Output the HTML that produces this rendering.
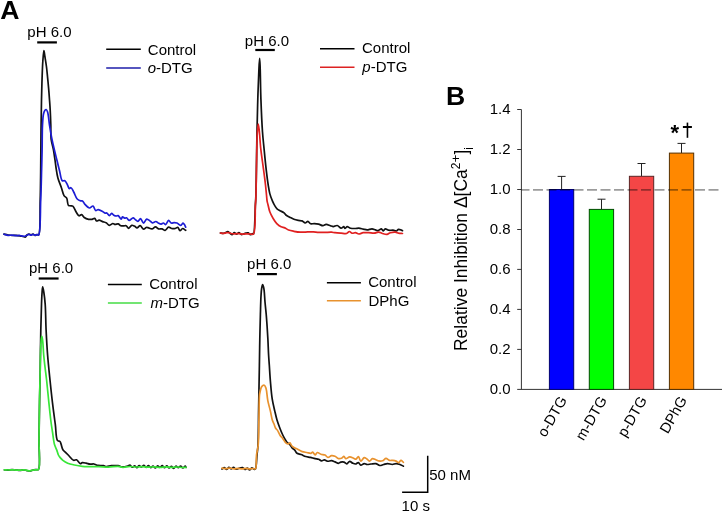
<!DOCTYPE html>
<html><head><meta charset="utf-8"><style>
html,body{margin:0;padding:0;background:#fff;}
svg{display:block;}
text{font-family:"Liberation Sans",sans-serif;font-size:15px;fill:#000;}
.b{font-weight:bold;font-size:26.6px;}
.i{font-style:italic;}
.tr{fill:none;stroke-width:1.7;stroke-linejoin:round;stroke-linecap:round;}
</style></head><body>
<svg width="723" height="513" viewBox="0 0 723 513">
<rect width="723" height="513" fill="#fff"/>
<!-- panel labels -->
<text class="b" x="0.2" y="19.2">A</text>
<text class="b" x="446.1" y="105.4">B</text>

<!-- pH labels + bars -->
<text x="27.3" y="37">pH 6.0</text>
<line x1="37.2" y1="42.4" x2="56.9" y2="42.4" stroke="#000" stroke-width="2.2"/>
<text x="244.8" y="45.5">pH 6.0</text>
<line x1="255.3" y1="50" x2="274.8" y2="50" stroke="#000" stroke-width="2.2"/>
<text x="29" y="272.8">pH 6.0</text>
<line x1="38.7" y1="278.5" x2="58.6" y2="278.5" stroke="#000" stroke-width="2.2"/>
<text x="247.1" y="268.7">pH 6.0</text>
<line x1="257" y1="274.1" x2="276.9" y2="274.1" stroke="#000" stroke-width="2.2"/>

<!-- legends -->
<line x1="106.2" y1="49.2" x2="140.8" y2="49.2" stroke="#000" stroke-width="1.5"/>
<line x1="106.2" y1="67.9" x2="140.8" y2="67.9" stroke="#1e1eaa" stroke-width="1.5"/>
<text x="147.8" y="54.5">Control</text>
<text x="147.7" y="73"><tspan class="i">o</tspan>-DTG</text>

<line x1="320" y1="48.8" x2="354.5" y2="48.8" stroke="#000" stroke-width="1.5"/>
<line x1="320" y1="67.2" x2="354.5" y2="67.2" stroke="#dd2222" stroke-width="1.5"/>
<text x="362" y="53.3">Control</text>
<text x="362.3" y="72.1"><tspan class="i">p</tspan>-DTG</text>

<line x1="107.9" y1="284.4" x2="141.8" y2="284.4" stroke="#000" stroke-width="1.5"/>
<line x1="107.9" y1="302.9" x2="141.8" y2="302.9" stroke="#44dd44" stroke-width="1.5"/>
<text x="149.2" y="288.8">Control</text>
<text x="150.5" y="307.5"><tspan class="i">m</tspan>-DTG</text>

<line x1="326.9" y1="282.7" x2="360.9" y2="282.7" stroke="#000" stroke-width="1.5"/>
<line x1="326.9" y1="300.7" x2="360.9" y2="300.7" stroke="#e8922e" stroke-width="1.5"/>
<text x="368.2" y="286.9">Control</text>
<text x="368.5" y="305.7">DPhG</text>

<!-- scale bar -->
<polyline points="427.7,455.8 427.7,492.3 402.1,492.3" fill="none" stroke="#000" stroke-width="1.5"/>
<text x="429.2" y="480.1">50 nM</text>
<text x="401.6" y="511.2">10 s</text>

<!-- TRACES -->
<g id="traces">
<path class="tr" stroke="#111" stroke-width="1.7" d="M4.00,234.20 C5.33,234.47 6.66,234.78 8.00,235.00 C9.33,235.22 10.66,235.45 12.00,235.50 C13.33,235.55 14.67,235.25 16.00,235.30 C17.34,235.35 18.77,235.58 20.00,235.80 C21.08,235.99 22.04,236.29 23.00,236.50 C23.87,236.69 24.83,237.26 25.50,237.00 C26.16,236.75 26.39,235.51 27.00,235.00 C27.57,234.52 28.33,234.00 29.00,234.00 C29.67,234.00 30.33,235.00 31.00,235.00 C31.67,235.00 32.35,233.94 33.00,234.00 C33.69,234.06 34.31,235.44 35.00,235.50 C35.65,235.56 36.36,234.55 37.00,234.50 C37.55,234.46 38.14,235.32 38.60,235.00 C40.70,233.53 39.80,213.87 40.20,200.00 C40.79,179.71 40.84,143.37 41.10,125.00 C41.25,114.33 41.36,106.53 41.50,99.70 C41.60,95.06 41.70,91.79 41.80,88.00 C41.90,84.43 41.96,81.43 42.10,77.60 C42.27,72.88 42.46,66.60 42.80,61.80 C43.09,57.77 43.48,50.72 43.90,50.70 C44.21,50.69 44.54,54.28 44.90,56.50 C45.38,59.48 46.05,63.49 46.50,67.00 C46.95,70.52 47.25,74.07 47.60,77.60 C47.95,81.11 48.29,84.51 48.60,88.10 C48.93,91.87 49.23,95.95 49.50,99.70 C49.76,103.23 50.00,106.24 50.20,110.00 C50.44,114.53 50.65,120.09 50.80,125.00 C50.95,129.75 50.58,134.64 51.10,139.00 C51.56,142.91 52.84,146.41 53.50,150.00 C54.13,153.40 54.56,156.90 55.00,160.00 C55.38,162.68 55.58,164.80 56.00,167.50 C56.50,170.71 56.99,174.61 57.90,178.00 C58.80,181.34 60.34,184.63 61.40,187.70 C62.35,190.46 62.85,193.77 64.00,195.60 C64.77,196.83 66.01,196.99 66.70,198.20 C67.67,199.89 67.29,204.24 68.40,205.30 C69.07,205.94 70.21,205.66 71.00,205.80 C71.65,205.92 72.20,205.68 72.80,206.10 C73.98,206.93 75.17,210.56 76.30,212.30 C77.19,213.66 77.91,215.54 78.90,215.80 C79.72,216.01 80.77,214.42 81.60,214.60 C82.56,214.80 83.11,216.73 84.20,217.50 C85.40,218.35 87.19,219.02 88.60,219.30 C89.81,219.54 91.03,219.48 92.10,219.30 C93.05,219.14 93.98,218.17 94.70,218.40 C95.47,218.65 95.73,220.73 96.50,221.00 C97.22,221.25 98.18,220.16 99.10,220.20 C100.19,220.24 101.43,221.16 102.60,221.60 C103.76,222.03 104.99,222.21 106.10,222.80 C107.27,223.42 108.25,225.20 109.40,225.30 C110.52,225.40 111.86,223.55 112.90,223.50 C113.71,223.46 114.29,224.31 115.10,224.40 C116.03,224.51 117.25,223.69 118.20,223.90 C119.15,224.12 119.84,225.37 120.80,225.70 C121.75,226.03 122.96,225.91 123.90,225.90 C124.70,225.89 125.39,225.44 126.10,225.70 C127.01,226.03 127.79,228.29 128.70,228.30 C129.68,228.31 130.73,225.56 131.80,225.30 C132.65,225.10 133.56,225.69 134.40,226.10 C135.30,226.54 136.10,227.91 137.00,227.90 C137.99,227.89 139.07,225.61 140.10,225.70 C141.27,225.80 142.47,229.08 143.60,229.20 C144.49,229.29 145.38,227.72 146.20,227.50 C146.83,227.33 147.29,227.47 148.00,227.60 C149.08,227.80 150.74,229.04 152.00,228.90 C153.24,228.76 154.39,226.76 155.50,226.80 C156.55,226.84 157.40,228.55 158.50,228.90 C159.57,229.24 160.89,228.66 162.00,228.90 C163.09,229.13 164.08,230.45 165.10,230.30 C166.29,230.12 167.41,227.40 168.60,227.20 C169.61,227.03 170.61,228.28 171.70,228.50 C172.81,228.72 174.14,228.72 175.20,228.50 C176.15,228.31 177.05,227.17 177.80,227.40 C178.69,227.67 179.16,230.58 180.00,230.70 C180.78,230.81 181.66,228.58 182.60,228.50 C183.56,228.42 184.67,229.70 185.70,230.30"/>
<path class="tr" stroke="#1c1cd4" stroke-width="1.7" d="M4.00,234.20 C5.33,234.57 6.65,235.14 8.00,235.30 C9.32,235.46 10.67,235.15 12.00,235.20 C13.33,235.25 14.67,235.55 16.00,235.60 C17.33,235.65 18.77,235.37 20.00,235.50 C21.08,235.61 22.04,236.13 23.00,236.20 C23.87,236.26 24.79,236.21 25.50,236.00 C26.08,235.83 26.46,235.45 27.00,235.20 C27.61,234.92 28.33,234.40 29.00,234.40 C29.67,234.40 30.34,235.21 31.00,235.20 C31.67,235.19 32.33,234.30 33.00,234.30 C33.67,234.30 34.32,235.16 35.00,235.20 C35.66,235.24 36.37,234.61 37.00,234.60 C37.56,234.59 38.13,235.34 38.60,235.00 C40.75,233.43 40.20,211.22 40.70,200.00 C41.17,189.62 41.35,178.99 41.60,170.00 C41.80,162.66 41.96,157.04 42.10,150.00 C42.26,142.13 42.15,131.64 42.50,125.00 C42.74,120.59 42.91,116.62 43.50,114.00 C43.85,112.48 44.22,111.26 44.80,110.50 C45.20,109.98 45.78,109.41 46.20,109.50 C46.74,109.62 47.19,110.79 47.60,112.00 C48.48,114.60 48.80,120.59 49.50,125.00 C50.23,129.58 51.03,134.63 51.90,139.00 C52.68,142.90 53.54,146.38 54.40,150.00 C55.24,153.54 56.13,157.00 57.00,160.50 C57.87,164.00 58.70,167.58 59.60,171.00 C60.47,174.30 60.87,179.61 62.30,180.70 C63.03,181.25 64.14,180.27 64.90,180.70 C65.96,181.30 66.74,183.62 67.50,185.00 C68.18,186.24 68.57,188.37 69.30,188.60 C69.80,188.76 70.44,187.55 71.00,187.70 C71.91,187.94 72.78,190.37 73.70,192.00 C74.84,194.03 75.76,197.51 77.20,199.00 C78.23,200.06 79.70,200.65 80.70,200.90 C81.37,201.07 81.92,200.60 82.50,200.90 C83.39,201.36 83.95,203.29 85.00,204.40 C86.21,205.68 88.06,207.89 89.50,208.00 C90.71,208.09 92.02,205.74 93.00,206.00 C94.11,206.30 94.55,210.11 95.60,210.50 C96.37,210.79 97.23,209.57 98.20,209.60 C99.48,209.64 101.34,210.73 102.60,211.40 C103.64,211.95 104.50,213.01 105.30,213.20 C105.85,213.33 106.28,212.82 106.80,213.00 C107.61,213.28 108.57,215.60 109.40,215.60 C110.16,215.60 110.85,213.44 111.60,213.40 C112.32,213.36 112.99,214.77 113.80,215.20 C114.59,215.63 115.61,215.97 116.40,216.00 C117.05,216.03 117.59,215.40 118.20,215.60 C119.17,215.92 120.44,219.17 121.20,219.10 C121.77,219.05 121.92,217.05 122.50,216.90 C123.08,216.75 123.98,218.09 124.70,218.20 C125.31,218.30 125.89,217.62 126.50,217.80 C127.36,218.05 128.09,220.29 129.10,220.40 C130.25,220.52 131.98,217.74 133.10,217.80 C133.96,217.85 134.52,219.03 135.30,219.60 C136.12,220.20 137.07,221.39 137.90,221.30 C138.81,221.21 139.64,218.63 140.50,218.70 C141.54,218.79 142.55,223.08 143.60,223.10 C144.62,223.12 145.52,219.33 146.70,219.10 C147.75,218.89 149.19,220.42 150.20,221.10 C151.04,221.66 151.54,222.67 152.40,222.80 C153.40,222.95 154.85,221.38 155.90,221.50 C156.86,221.61 157.60,222.76 158.50,223.20 C159.37,223.62 160.36,224.16 161.20,224.10 C161.98,224.04 162.69,222.93 163.40,223.00 C164.13,223.07 164.79,224.70 165.50,224.60 C166.50,224.46 167.57,220.48 168.60,220.40 C169.47,220.34 170.20,222.66 171.20,223.00 C172.12,223.31 173.30,222.59 174.30,222.60 C175.23,222.61 176.08,222.64 177.00,223.00 C178.14,223.45 179.44,225.45 180.50,225.40 C181.45,225.35 182.40,223.16 183.10,223.20 C183.63,223.23 184.00,224.03 184.40,224.60 C184.89,225.31 185.27,226.33 185.70,227.20"/>
<path class="tr" stroke="#111" stroke-width="1.4" d="M220.40,233.00 C221.27,233.10 222.15,233.37 223.00,233.30 C223.85,233.23 224.70,232.89 225.50,232.60 C226.27,232.32 226.98,231.53 227.70,231.60 C228.48,231.67 229.26,232.67 230.00,233.20 C230.69,233.70 231.32,234.72 232.00,234.70 C232.75,234.67 233.51,232.77 234.30,232.70 C235.04,232.64 235.84,234.11 236.60,234.10 C237.37,234.09 238.15,232.56 238.90,232.60 C239.68,232.64 240.38,234.30 241.20,234.50 C241.93,234.68 242.74,234.21 243.50,234.00 C244.27,233.78 245.02,233.38 245.80,233.20 C246.56,233.02 247.37,232.70 248.10,232.90 C248.92,233.12 249.61,234.63 250.40,234.70 C251.15,234.77 252.14,233.48 252.70,233.50 C253.04,233.51 253.26,234.12 253.50,234.00 C254.86,233.30 254.98,211.84 255.40,204.70 C255.64,200.60 255.74,199.65 255.90,195.00 C256.31,183.17 256.63,149.65 257.00,132.00 C257.27,119.21 257.48,109.36 257.80,98.90 C258.09,89.47 258.44,79.47 258.80,72.00 C259.05,66.67 259.36,58.30 259.60,58.30 C259.78,58.30 259.95,62.54 260.10,66.00 C260.42,73.15 260.50,87.92 260.90,98.90 C261.30,109.92 261.86,122.94 262.50,132.00 C262.95,138.33 263.44,142.35 264.00,148.10 C264.65,154.75 265.44,163.03 266.20,169.60 C266.85,175.17 267.51,180.62 268.20,185.00 C268.72,188.29 269.06,190.86 269.80,193.60 C270.51,196.22 271.52,198.84 272.50,201.10 C273.34,203.05 274.29,204.96 275.20,206.40 C275.89,207.49 276.48,208.38 277.30,209.10 C278.09,209.79 279.02,210.15 280.00,210.70 C281.15,211.34 282.77,211.91 283.80,212.70 C284.67,213.38 285.03,214.30 285.90,215.00 C286.93,215.83 288.39,216.49 289.70,217.20 C291.05,217.93 292.46,218.76 293.90,219.30 C295.30,219.82 296.80,220.13 298.20,220.40 C299.50,220.65 300.83,220.47 302.00,220.90 C303.17,221.33 304.17,222.98 305.20,223.00 C306.13,223.02 307.03,221.32 307.90,221.40 C308.83,221.49 309.54,223.43 310.60,223.80 C311.67,224.17 313.02,223.56 314.30,223.60 C315.68,223.64 317.19,223.76 318.60,224.10 C320.05,224.45 321.58,225.72 322.90,225.70 C324.05,225.68 324.94,224.45 326.10,224.40 C327.42,224.34 329.11,225.30 330.40,225.70 C331.46,226.03 332.26,226.59 333.30,226.60 C334.50,226.62 335.95,225.29 337.20,225.50 C338.56,225.73 339.91,228.16 341.10,228.20 C342.07,228.23 343.15,226.43 343.80,226.60 C344.34,226.74 344.41,228.42 344.90,228.50 C345.47,228.60 346.24,226.72 347.10,226.60 C348.07,226.47 349.23,227.87 350.50,228.20 C351.95,228.57 353.92,228.52 355.40,228.50 C356.64,228.48 357.60,228.13 358.80,228.20 C360.18,228.28 361.78,228.81 363.20,229.10 C364.54,229.37 365.73,229.91 367.10,229.90 C368.64,229.89 370.52,228.73 372.00,228.80 C373.25,228.86 374.33,229.57 375.40,229.90 C376.35,230.19 377.18,230.81 378.10,230.70 C379.17,230.57 380.54,228.63 381.40,228.80 C382.14,228.95 382.47,230.96 383.10,231.00 C383.76,231.04 384.43,228.97 385.30,228.80 C386.24,228.62 387.39,229.95 388.60,230.20 C389.96,230.48 391.73,230.04 393.10,230.20 C394.29,230.34 395.45,231.20 396.40,231.00 C397.26,230.82 397.72,229.44 398.60,229.30 C399.68,229.13 401.20,230.23 402.50,230.70"/>
<path class="tr" stroke="#e02020" stroke-width="1.4" d="M220.40,233.00 C221.27,233.13 222.10,233.41 223.00,233.40 C223.96,233.39 225.04,233.04 226.00,232.90 C226.87,232.78 227.68,232.51 228.50,232.60 C229.34,232.70 230.05,233.30 231.00,233.50 C232.16,233.75 233.67,233.78 235.00,233.80 C236.33,233.82 237.67,233.55 239.00,233.60 C240.34,233.65 241.67,234.07 243.00,234.10 C244.33,234.13 245.67,233.80 247.00,233.80 C248.33,233.80 249.82,234.08 251.00,234.10 C251.93,234.12 252.81,234.67 253.50,234.00 C255.85,231.70 254.98,210.28 255.40,204.70 C255.57,202.46 255.68,202.34 255.80,200.00 C256.16,193.20 256.34,171.77 256.60,160.00 C256.80,150.69 256.82,141.62 257.20,135.00 C257.45,130.62 257.80,124.12 258.20,124.10 C258.50,124.09 258.88,127.49 259.20,130.00 C259.75,134.38 260.10,142.47 260.70,148.10 C261.22,153.05 261.92,157.64 262.50,162.00 C263.02,165.88 263.51,169.25 264.00,173.00 C264.51,176.91 265.07,181.18 265.50,185.00 C265.89,188.48 266.21,192.08 266.50,195.00 C266.73,197.28 266.80,199.34 267.10,201.10 C267.34,202.47 267.65,203.30 268.00,204.70 C268.50,206.67 268.96,209.54 269.80,211.80 C270.63,214.04 271.80,216.20 273.00,218.20 C274.15,220.12 275.36,222.12 276.80,223.60 C278.09,224.93 279.66,226.08 281.10,226.80 C282.33,227.41 283.59,227.39 284.80,227.90 C286.09,228.44 287.19,229.45 288.60,230.00 C290.18,230.62 292.03,230.94 293.90,231.30 C295.95,231.69 298.15,232.09 300.40,232.20 C302.81,232.32 305.62,231.95 307.90,231.90 C309.82,231.86 311.43,231.82 313.20,231.90 C314.99,231.98 316.72,232.31 318.60,232.40 C320.64,232.49 322.86,232.43 325.00,232.40 C327.16,232.37 329.67,232.10 331.50,232.20 C332.85,232.28 333.67,232.55 335.00,232.70 C336.75,232.90 339.12,233.06 341.10,233.20 C342.98,233.33 345.13,233.93 346.60,233.50 C347.76,233.16 348.47,231.53 349.40,231.50 C350.30,231.47 351.11,232.99 352.10,233.20 C353.11,233.41 354.31,232.58 355.40,232.70 C356.54,232.82 357.59,233.95 358.80,234.00 C360.16,234.05 361.63,232.93 363.20,232.70 C364.91,232.45 366.87,232.62 368.70,232.70 C370.54,232.78 372.47,233.33 374.20,233.20 C375.79,233.08 377.28,232.02 378.70,232.10 C380.03,232.18 381.16,233.14 382.50,233.50 C383.92,233.88 385.64,234.49 387.00,234.30 C388.22,234.13 389.05,233.07 390.30,232.70 C391.76,232.27 393.82,231.95 395.30,232.10 C396.53,232.22 397.44,232.97 398.60,233.20 C399.83,233.45 401.20,233.40 402.50,233.50"/>
<path class="tr" stroke="#111" stroke-width="1.6" d="M4.40,469.90 C5.60,469.97 6.77,470.13 8.00,470.10 C9.30,470.07 10.67,469.72 12.00,469.70 C13.33,469.68 14.67,469.90 16.00,470.00 C17.33,470.10 18.67,470.33 20.00,470.30 C21.33,470.27 22.77,469.72 24.00,469.80 C25.08,469.87 25.99,470.40 27.00,470.60 C27.99,470.80 29.01,471.09 30.00,471.00 C31.01,470.90 31.99,470.23 33.00,470.00 C33.99,469.77 35.04,469.70 36.00,469.60 C36.87,469.51 37.84,470.10 38.50,469.40 C40.75,467.01 38.83,450.55 39.00,440.00 C39.20,427.69 39.38,412.38 39.60,400.00 C39.79,389.28 40.01,380.72 40.20,370.00 C40.42,357.62 40.55,341.85 40.80,330.00 C41.00,320.52 41.23,311.40 41.50,304.40 C41.68,299.52 41.83,295.25 42.10,292.00 C42.27,289.89 42.42,286.81 42.70,286.80 C42.98,286.79 43.46,289.89 43.80,292.00 C44.32,295.24 44.84,299.52 45.20,304.40 C45.72,311.40 45.70,321.52 46.10,330.00 C46.50,338.39 46.95,346.67 47.60,355.00 C48.25,363.34 49.16,371.85 50.00,380.00 C50.80,387.80 51.60,395.39 52.50,402.90 C53.37,410.18 54.41,417.75 55.30,424.40 C56.07,430.16 55.83,438.37 57.50,440.50 C58.18,441.37 59.42,440.92 60.00,441.50 C60.57,442.07 60.64,442.92 61.00,443.90 C61.56,445.41 62.01,448.26 62.90,449.70 C63.56,450.77 64.43,451.23 65.30,452.10 C66.33,453.13 67.46,454.27 68.70,455.50 C70.18,456.97 72.06,459.82 73.60,460.30 C74.61,460.61 75.55,459.49 76.50,459.80 C77.79,460.22 79.17,463.51 80.30,463.70 C81.02,463.82 81.50,462.83 82.30,462.70 C83.34,462.52 84.83,462.96 86.10,463.20 C87.40,463.45 88.69,464.07 90.00,464.20 C91.29,464.33 92.62,463.81 93.90,464.00 C95.22,464.20 96.35,465.11 97.80,465.40 C99.52,465.75 102.01,465.42 103.60,465.70 C104.75,465.90 105.40,466.54 106.50,466.60 C107.89,466.68 109.55,465.86 111.30,465.70 C113.36,465.51 116.16,465.41 118.10,465.70 C119.60,465.93 120.56,466.80 122.00,466.90 C123.73,467.03 126.34,466.37 127.80,466.00 C128.72,465.76 129.30,465.07 130.00,465.20 C130.80,465.35 131.51,467.13 132.30,467.20 C133.04,467.26 133.85,465.76 134.60,465.80 C135.38,465.85 136.14,467.62 136.90,467.60 C137.68,467.58 138.41,465.67 139.20,465.60 C139.94,465.54 140.74,467.03 141.50,467.00 C142.28,466.97 143.05,465.26 143.80,465.30 C144.58,465.34 145.32,467.38 146.10,467.40 C146.86,467.42 147.64,465.48 148.40,465.50 C149.18,465.52 149.91,467.54 150.70,467.60 C151.44,467.66 152.25,466.06 153.00,466.10 C153.78,466.14 154.54,468.02 155.30,468.00 C156.08,467.98 156.80,465.98 157.60,465.90 C158.34,465.83 159.14,467.32 159.90,467.30 C160.67,467.28 161.45,465.66 162.20,465.70 C162.98,465.74 163.72,467.68 164.50,467.70 C165.26,467.72 166.04,465.88 166.80,465.90 C167.58,465.92 168.31,467.85 169.10,467.90 C169.85,467.95 170.65,466.36 171.40,466.40 C172.18,466.44 172.94,468.32 173.70,468.30 C174.48,468.28 175.21,466.26 176.00,466.20 C176.74,466.14 177.54,467.72 178.30,467.70 C179.07,467.68 179.85,465.97 180.60,466.00 C181.38,466.03 182.12,467.98 182.90,468.00 C183.66,468.02 184.66,466.12 185.20,466.20 C185.57,466.25 185.73,466.93 186.00,467.30"/>
<path class="tr" stroke="#38e638" stroke-width="1.6" d="M4.40,469.90 C5.60,469.93 6.77,470.01 8.00,470.00 C9.30,469.99 10.67,469.78 12.00,469.80 C13.33,469.82 14.67,470.03 16.00,470.10 C17.33,470.17 18.67,470.23 20.00,470.20 C21.33,470.17 22.77,469.84 24.00,469.90 C25.07,469.95 26.00,470.25 27.00,470.40 C28.00,470.55 29.00,470.85 30.00,470.80 C31.00,470.75 31.99,470.27 33.00,470.10 C33.99,469.93 35.05,469.92 36.00,469.80 C36.87,469.69 37.84,470.16 38.50,469.40 C40.73,466.83 38.84,450.55 39.00,440.00 C39.18,427.69 39.29,411.05 39.50,400.00 C39.65,392.19 39.83,387.34 40.00,380.00 C40.20,371.01 40.31,357.32 40.60,350.00 C40.77,345.77 40.92,342.52 41.20,340.00 C41.37,338.46 41.57,336.31 41.80,336.30 C42.03,336.29 42.36,338.34 42.60,340.00 C43.08,343.31 43.27,350.28 43.70,355.00 C44.08,359.23 44.53,362.92 45.00,367.00 C45.49,371.25 46.05,375.05 46.60,380.00 C47.33,386.56 48.13,395.61 48.90,402.90 C49.60,409.56 50.31,416.66 51.00,422.00 C51.50,425.87 51.96,428.48 52.50,432.00 C53.11,435.96 53.56,441.30 54.50,444.60 C55.14,446.85 56.13,448.31 56.80,450.10 C57.42,451.77 57.76,453.69 58.40,455.00 C58.88,455.98 59.34,456.60 60.00,457.40 C60.79,458.36 61.75,459.40 62.90,460.30 C64.25,461.35 65.90,462.44 67.70,463.20 C69.72,464.05 72.14,464.49 74.50,465.00 C77.00,465.54 79.79,466.04 82.30,466.30 C84.61,466.54 86.56,466.55 89.00,466.60 C91.93,466.67 95.47,466.52 98.70,466.60 C101.93,466.68 105.17,467.15 108.40,467.10 C111.64,467.05 115.44,466.14 118.10,466.30 C119.99,466.42 121.14,467.22 122.90,467.30 C125.03,467.40 127.73,466.53 130.00,466.50 C132.08,466.47 134.00,466.98 136.00,467.00 C138.00,467.02 140.00,466.57 142.00,466.60 C144.00,466.63 146.00,467.17 148.00,467.20 C150.00,467.23 152.00,466.78 154.00,466.80 C156.00,466.82 158.00,467.28 160.00,467.30 C162.00,467.32 164.00,466.88 166.00,466.90 C168.00,466.92 170.00,467.38 172.00,467.40 C174.00,467.42 176.20,466.95 178.00,467.00 C179.47,467.04 180.66,467.43 182.00,467.50 C183.33,467.57 184.67,467.43 186.00,467.40"/>
<path class="tr" stroke="#111" stroke-width="1.6" d="M222.00,469.00 C222.77,468.57 223.55,467.65 224.30,467.70 C225.08,467.75 225.85,469.43 226.60,469.40 C227.38,469.37 228.11,467.47 228.90,467.40 C229.64,467.34 230.44,468.81 231.20,468.80 C231.97,468.79 232.75,467.26 233.50,467.30 C234.28,467.34 234.98,469.00 235.80,469.20 C236.53,469.38 237.34,468.91 238.10,468.70 C238.87,468.48 239.62,468.08 240.40,467.90 C241.16,467.72 241.98,467.39 242.70,467.60 C243.52,467.84 244.21,469.43 245.00,469.50 C245.74,469.57 246.55,468.15 247.30,468.20 C248.08,468.25 248.85,469.93 249.60,469.90 C250.38,469.87 251.11,467.97 251.90,467.90 C252.64,467.84 253.54,469.23 254.20,469.30 C254.65,469.35 255.06,469.32 255.40,468.90 C256.55,467.49 256.54,459.25 257.00,455.00 C257.39,451.39 257.75,449.35 258.00,445.00 C258.47,436.88 258.38,422.40 258.60,410.00 C258.85,395.94 259.18,377.88 259.40,365.00 C259.56,355.30 259.63,347.98 259.80,339.50 C259.97,331.05 260.18,321.94 260.40,314.20 C260.59,307.63 260.71,300.83 261.00,296.00 C261.19,292.79 261.33,290.09 261.70,288.00 C261.94,286.62 262.27,284.62 262.60,284.60 C262.85,284.58 263.17,285.75 263.40,286.50 C263.70,287.50 263.89,288.54 264.10,290.10 C264.48,292.91 264.65,298.01 265.00,302.00 C265.35,306.04 265.85,310.14 266.20,314.20 C266.55,318.24 266.82,322.18 267.10,326.30 C267.39,330.60 267.66,334.92 267.90,339.50 C268.16,344.46 268.34,350.40 268.60,355.00 C268.81,358.70 269.04,361.26 269.30,365.00 C269.63,369.77 269.93,375.77 270.40,381.30 C270.89,387.06 271.37,393.59 272.20,398.90 C272.90,403.36 273.94,407.36 274.80,411.10 C275.54,414.31 276.12,417.07 277.00,420.00 C277.88,422.94 279.12,426.17 280.10,428.70 C280.87,430.70 281.52,432.30 282.30,434.00 C283.05,435.63 283.87,437.27 284.70,438.70 C285.44,439.97 286.10,441.20 287.00,442.20 C287.85,443.15 289.04,443.66 289.90,444.60 C290.82,445.60 291.43,447.19 292.30,448.10 C293.02,448.84 293.88,449.06 294.60,449.80 C295.47,450.71 295.92,452.52 297.00,453.30 C298.08,454.09 299.71,454.00 301.10,454.50 C302.61,455.05 304.13,456.02 305.70,456.50 C307.23,456.97 308.84,457.05 310.40,457.40 C311.97,457.75 313.64,458.29 315.10,458.60 C316.35,458.87 317.52,458.81 318.60,459.20 C319.65,459.58 320.51,460.82 321.50,460.90 C322.45,460.98 323.43,459.76 324.40,459.80 C325.40,459.84 326.29,461.02 327.40,461.20 C328.63,461.40 330.20,460.56 331.50,460.70 C332.73,460.83 333.84,461.47 335.00,461.90 C336.17,462.34 337.47,463.35 338.50,463.30 C339.36,463.26 339.95,462.31 340.80,462.10 C341.73,461.87 342.92,461.83 343.90,462.10 C344.92,462.38 345.86,463.89 346.80,463.80 C347.80,463.71 348.70,461.38 349.70,461.30 C350.64,461.23 351.60,462.65 352.60,463.10 C353.54,463.53 354.55,464.07 355.50,464.00 C356.48,463.93 357.53,462.44 358.40,462.60 C359.31,462.77 359.85,465.02 360.80,465.20 C361.78,465.39 363.10,463.68 364.20,463.60 C365.19,463.53 366.05,464.41 367.10,464.50 C368.29,464.60 369.63,464.14 371.00,464.00 C372.52,463.84 374.32,463.32 375.80,463.60 C377.21,463.86 378.37,465.37 379.70,465.50 C380.98,465.63 382.31,464.82 383.60,464.50 C384.87,464.19 386.05,463.63 387.40,463.60 C388.93,463.56 390.77,464.54 392.30,464.50 C393.65,464.47 394.82,463.60 396.10,463.60 C397.39,463.60 398.77,464.06 400.00,464.50 C401.20,464.93 402.27,465.63 403.40,466.20"/>
<path class="tr" stroke="#e8922e" stroke-width="1.6" d="M222.00,468.20 C223.33,468.33 224.67,468.60 226.00,468.60 C227.33,468.60 228.67,468.17 230.00,468.20 C231.34,468.23 232.67,468.78 234.00,468.80 C235.33,468.82 236.67,468.28 238.00,468.30 C239.33,468.32 240.67,468.88 242.00,468.90 C243.33,468.92 244.67,468.40 246.00,468.40 C247.33,468.40 248.76,468.91 250.00,468.90 C251.07,468.90 252.06,468.48 253.00,468.50 C253.85,468.51 254.79,469.38 255.40,468.90 C256.85,467.77 255.98,459.33 256.50,455.10 C256.95,451.46 257.80,449.13 258.20,445.00 C258.83,438.54 258.68,428.33 258.90,420.00 C259.12,411.67 259.12,398.87 259.50,395.00 C259.62,393.82 259.68,393.64 259.90,392.70 C260.26,391.14 260.70,387.83 261.70,386.60 C262.38,385.76 263.60,384.99 264.30,385.20 C265.07,385.43 265.52,386.87 266.00,388.30 C266.90,390.99 267.03,396.68 267.80,400.60 C268.52,404.26 269.63,407.74 270.40,411.10 C271.11,414.18 271.56,417.65 272.30,420.00 C272.81,421.63 273.46,422.66 274.00,424.00 C274.53,425.33 274.85,426.88 275.50,428.00 C276.06,428.96 276.85,429.42 277.50,430.40 C278.36,431.69 279.05,433.77 280.00,435.20 C280.87,436.51 281.96,437.47 282.90,438.70 C283.89,439.99 284.76,441.91 285.80,442.80 C286.56,443.45 287.48,444.05 288.20,444.00 C288.83,443.95 289.38,442.69 289.90,442.80 C290.57,442.94 290.98,444.90 291.70,445.70 C292.36,446.44 293.12,446.95 294.00,447.50 C295.02,448.13 296.25,448.58 297.50,449.20 C298.95,449.92 300.59,451.05 302.20,451.60 C303.73,452.13 305.39,452.21 306.90,452.50 C308.31,452.77 309.96,453.50 311.00,453.30 C311.72,453.16 312.12,452.12 312.70,452.20 C313.48,452.31 314.30,454.89 315.10,454.90 C315.87,454.91 316.48,452.66 317.40,452.50 C318.39,452.32 319.66,453.77 320.90,454.20 C322.19,454.65 323.79,454.54 325.00,455.10 C326.14,455.63 326.93,457.29 328.00,457.40 C329.09,457.51 330.31,455.87 331.50,455.70 C332.64,455.54 333.88,455.86 335.00,456.30 C336.22,456.78 337.28,458.35 338.50,458.60 C339.62,458.83 341.06,458.45 342.00,458.00 C342.80,457.62 343.29,456.25 343.90,456.30 C344.57,456.36 344.96,458.51 345.80,458.70 C346.80,458.93 348.38,456.87 349.70,456.80 C350.99,456.73 352.46,457.76 353.60,458.20 C354.50,458.55 355.26,459.37 356.00,459.20 C356.88,459.00 357.66,456.41 358.40,456.50 C359.29,456.61 359.81,460.95 360.80,461.10 C361.76,461.25 363.09,457.92 364.20,457.70 C365.01,457.54 365.80,458.22 366.60,458.70 C367.56,459.28 368.53,461.10 369.50,461.10 C370.47,461.10 371.33,458.92 372.40,458.70 C373.44,458.49 374.72,459.32 375.80,459.70 C376.82,460.06 377.64,460.72 378.70,460.90 C379.88,461.10 381.40,461.10 382.60,460.70 C383.83,460.29 384.86,458.44 386.00,458.40 C387.12,458.36 388.22,460.08 389.40,460.40 C390.49,460.70 391.68,460.28 392.80,460.40 C393.91,460.52 395.11,460.71 396.10,461.10 C397.02,461.46 397.80,462.68 398.60,462.60 C399.44,462.51 400.19,460.43 401.00,460.40 C401.79,460.37 402.60,461.67 403.40,462.30"/>
</g>

<!-- BAR CHART -->
<g id="chart">
<g stroke="#333" stroke-width="1">
<line x1="521.4" y1="109.5" x2="521.4" y2="389.4"/>
<line x1="517.2" y1="389.4" x2="722" y2="389.4"/>
<line x1="517.2" y1="109.5" x2="521.4" y2="109.5"/>
<line x1="517.2" y1="149.5" x2="521.4" y2="149.5"/>
<line x1="517.2" y1="189.5" x2="521.4" y2="189.5"/>
<line x1="517.2" y1="229.5" x2="521.4" y2="229.5"/>
<line x1="517.2" y1="269.4" x2="521.4" y2="269.4"/>
<line x1="517.2" y1="309.4" x2="521.4" y2="309.4"/>
<line x1="517.2" y1="349.4" x2="521.4" y2="349.4"/>
</g>
<g text-anchor="end">
<text x="510.6" y="114.3">1.4</text>
<text x="510.6" y="154.3">1.2</text>
<text x="510.6" y="194.3">1.0</text>
<text x="510.6" y="234.3">0.8</text>
<text x="510.6" y="274.2">0.6</text>
<text x="510.6" y="314.2">0.4</text>
<text x="510.6" y="354.2">0.2</text>
<text x="510.6" y="394.2">0.0</text>
</g>
<!-- error bars -->
<g stroke="#222" stroke-width="1">
<line x1="561.6" y1="189.5" x2="561.6" y2="176.4"/><line x1="557.6" y1="176.4" x2="565.6" y2="176.4"/>
<line x1="601.5" y1="209.4" x2="601.5" y2="199.2"/><line x1="597.5" y1="199.2" x2="605.5" y2="199.2"/>
<line x1="641.5" y1="176.3" x2="641.5" y2="163.5"/><line x1="637.5" y1="163.5" x2="645.5" y2="163.5"/>
<line x1="681.5" y1="153.1" x2="681.5" y2="143.4"/><line x1="677.5" y1="143.4" x2="685.5" y2="143.4"/>
</g>
<g stroke-width="1">
<rect x="549.4" y="189.5" width="24.3" height="199.9" fill="#0000ff" stroke="#000070"/>
<rect x="589.3" y="209.4" width="24.3" height="180" fill="#00ff00" stroke="#004a00"/>
<rect x="629.4" y="176.3" width="24.3" height="213.1" fill="#f44646" stroke="#5a2424"/>
<rect x="669.4" y="153.1" width="24.3" height="236.3" fill="#ff8800" stroke="#553000"/>
</g>
<line x1="521.4" y1="189.9" x2="720" y2="189.9" stroke="#9c9c9c" stroke-width="1.8" stroke-dasharray="10 3.5" stroke-dashoffset="1.9" style="mix-blend-mode:multiply"/>
<text x="670.4" y="139.8" style="font-size:22px;font-weight:bold">*</text>
<rect x="686.65" y="122.6" width="1.6" height="15.2" fill="#000"/>
<rect x="682.9" y="126" width="9" height="2" fill="#000"/>
<g>
<text transform="translate(567.5,400) rotate(-60)" text-anchor="end" style="font-size:14.6px">o-DTG</text>
<text transform="translate(607.5,400) rotate(-60)" text-anchor="end" style="font-size:14.6px">m-DTG</text>
<text transform="translate(647.5,400) rotate(-60)" text-anchor="end" style="font-size:14.6px">p-DTG</text>
<text transform="translate(687.5,400) rotate(-60)" text-anchor="end" style="font-size:14.6px">DPhG</text>
</g>
<text transform="translate(467.3,351.1) rotate(-90)" style="font-size:17.5px">Relative Inhibition Δ[Ca<tspan dy="-7" font-size="12">2</tspan><tspan font-size="13.5">+</tspan><tspan dy="7">]</tspan><tspan dy="5.5" font-size="12">i</tspan></text>
</g>
</svg>
</body></html>
